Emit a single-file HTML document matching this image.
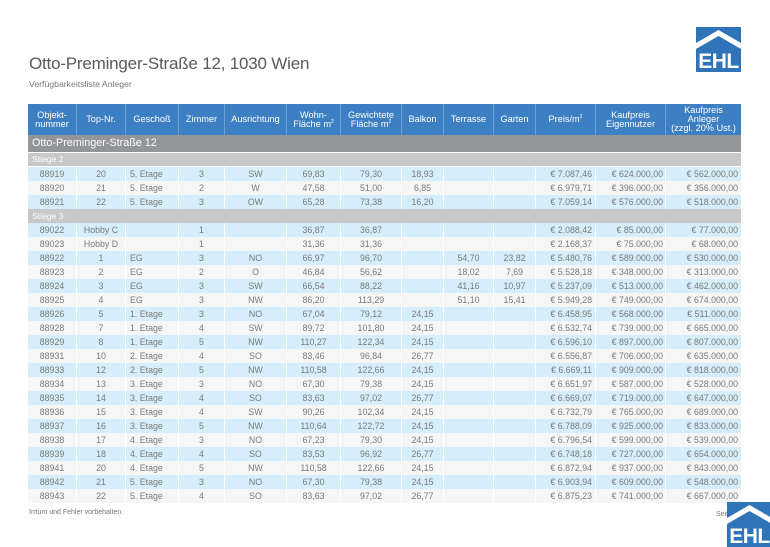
<!DOCTYPE html>
<html><head><meta charset="utf-8">
<style>
*{margin:0;padding:0;box-sizing:border-box}
html,body{width:770px;height:545px;overflow:hidden;background:#fff;font-family:"Liberation Sans",sans-serif}
.abs{position:absolute}
.title{left:29px;top:54.6px;font-size:17px;line-height:17px;color:#5a5a5a;letter-spacing:-0.2px;white-space:nowrap}
.sub{left:29px;top:79.5px;font-size:8.7px;line-height:9px;color:#777;white-space:nowrap}
.row{position:absolute;left:28px;width:713px;display:flex}
.row>div{flex:none;height:100%;border-right:1px solid #fff;white-space:nowrap;overflow:hidden}
.row>div:last-child{border-right:none}
.hd{top:104px;height:31px;background:#3c7fc2;color:#fff;font-size:9.2px;line-height:9px}
.hd>div{display:flex;align-items:center;justify-content:center;text-align:center;border-right:1px solid #6f9fd2 !important}
.hd>div:last-child{border-right:none !important}
.hd>div>span{display:block}
.sec{position:absolute;left:28px;width:713px;top:135px;height:17px;background:#939598;color:#fff;font-size:10.8px;line-height:17px;padding-left:4px}
.st{position:absolute;left:28px;width:713px;height:13px;background:#c8c8c8;color:#fff;font-size:8.6px;line-height:13px;padding-left:4px}
.d{height:14px;font-size:8.8px;line-height:14px;color:#7a7a7a}
.b{background:#d5eef9}
.w{background:#f6f6f6}
.d>div{text-align:center}
.d>div:nth-child(3){text-align:left;padding-left:4px}
.d>div:nth-child(11){text-align:right;padding-right:3px}
.d>div:nth-child(12){text-align:right;padding-right:2px}
.d>div:nth-child(13){text-align:right;padding-right:3px}
.c1{width:49px}.c2{width:49px}.c3{width:53px}.c4{width:46px}.c5{width:62px}.c6{width:54px}.c7{width:61px}.c8{width:42px}.c9{width:50px}.c10{width:42px}.c11{width:60px}.c12{width:70px}.c13{width:75px}
sup{font-size:5px;vertical-align:4px;line-height:0}
.foot{left:29px;top:509px;font-size:7px;line-height:8px;color:#777;white-space:nowrap}
.seite{left:716px;top:511px;font-size:7px;line-height:8px;color:#777;white-space:nowrap}
</style></head><body>

<div class="abs title">Otto-Preminger-Straße 12, 1030 Wien</div>
<div class="abs sub">Verfügbarkeitsliste Anleger</div>

<svg class="abs" style="left:696px;top:27px" width="45" height="45" viewBox="0 0 45 45">
<rect width="45" height="45" fill="#2f74b8"/>
<polygon points="0,16 22.5,3 45,16 45,22 22.5,9 0,22" fill="#fff"/>
<text x="22.5" y="41" text-anchor="middle" font-family="Liberation Sans" font-weight="bold" font-size="21" fill="#fff" letter-spacing="-0.5">EHL</text>
</svg>

<div class="row hd">
<div class="c1"><span>Objekt-<br>nummer</span></div>
<div class="c2"><span>Top-Nr.</span></div>
<div class="c3"><span>Geschoß</span></div>
<div class="c4"><span>Zimmer</span></div>
<div class="c5"><span>Ausrichtung</span></div>
<div class="c6"><span>Wohn-<br>Fläche m<sup>2</sup></span></div>
<div class="c7"><span>Gewichtete<br>Fläche m<sup>2</sup></span></div>
<div class="c8"><span>Balkon</span></div>
<div class="c9"><span>Terrasse</span></div>
<div class="c10"><span>Garten</span></div>
<div class="c11"><span>Preis/m<sup>2</sup></span></div>
<div class="c12"><span>Kaufpreis<br>Eigennutzer</span></div>
<div class="c13"><span>Kaufpreis<br>Anleger<br>(zzgl. 20% Ust.)</span></div>
</div>

<div class="sec">Otto-Preminger-Straße 12</div>
<div class="st" style="top:153px">Stiege 2</div>

<div class="row d b" style="top:167px"><div class="c1">88919</div><div class="c2">20</div><div class="c3">5. Etage</div><div class="c4">3</div><div class="c5">SW</div><div class="c6">69,83</div><div class="c7">79,30</div><div class="c8">18,93</div><div class="c9"></div><div class="c10"></div><div class="c11">€ 7.087,46</div><div class="c12">€ 624.000,00</div><div class="c13">€ 562.000,00</div></div>
<div class="row d w" style="top:181px"><div class="c1">88920</div><div class="c2">21</div><div class="c3">5. Etage</div><div class="c4">2</div><div class="c5">W</div><div class="c6">47,58</div><div class="c7">51,00</div><div class="c8">6,85</div><div class="c9"></div><div class="c10"></div><div class="c11">€ 6.979,71</div><div class="c12">€ 396.000,00</div><div class="c13">€ 356.000,00</div></div>
<div class="row d b" style="top:195px"><div class="c1">88921</div><div class="c2">22</div><div class="c3">5. Etage</div><div class="c4">3</div><div class="c5">OW</div><div class="c6">65,28</div><div class="c7">73,38</div><div class="c8">16,20</div><div class="c9"></div><div class="c10"></div><div class="c11">€ 7.059,14</div><div class="c12">€ 576.000,00</div><div class="c13">€ 518.000,00</div></div>

<div class="st" style="top:209px;height:14px;line-height:14px">Stiege 3</div>

<div class="row d b" style="top:223px"><div class="c1">89022</div><div class="c2">Hobby C</div><div class="c3"></div><div class="c4">1</div><div class="c5"></div><div class="c6">36,87</div><div class="c7">36,87</div><div class="c8"></div><div class="c9"></div><div class="c10"></div><div class="c11">€ 2.088,42</div><div class="c12">€ 85.000,00</div><div class="c13">€ 77.000,00</div></div>
<div class="row d w" style="top:237px"><div class="c1">89023</div><div class="c2">Hobby D</div><div class="c3"></div><div class="c4">1</div><div class="c5"></div><div class="c6">31,36</div><div class="c7">31,36</div><div class="c8"></div><div class="c9"></div><div class="c10"></div><div class="c11">€ 2.168,37</div><div class="c12">€ 75.000,00</div><div class="c13">€ 68.000,00</div></div>
<div class="row d b" style="top:251px"><div class="c1">88922</div><div class="c2">1</div><div class="c3">EG</div><div class="c4">3</div><div class="c5">NO</div><div class="c6">66,97</div><div class="c7">96,70</div><div class="c8"></div><div class="c9">54,70</div><div class="c10">23,82</div><div class="c11">€ 5.480,76</div><div class="c12">€ 589.000,00</div><div class="c13">€ 530.000,00</div></div>
<div class="row d w" style="top:265px"><div class="c1">88923</div><div class="c2">2</div><div class="c3">EG</div><div class="c4">2</div><div class="c5">O</div><div class="c6">46,84</div><div class="c7">56,62</div><div class="c8"></div><div class="c9">18,02</div><div class="c10">7,69</div><div class="c11">€ 5.528,18</div><div class="c12">€ 348.000,00</div><div class="c13">€ 313.000,00</div></div>
<div class="row d b" style="top:279px"><div class="c1">88924</div><div class="c2">3</div><div class="c3">EG</div><div class="c4">3</div><div class="c5">SW</div><div class="c6">66,54</div><div class="c7">88,22</div><div class="c8"></div><div class="c9">41,16</div><div class="c10">10,97</div><div class="c11">€ 5.237,09</div><div class="c12">€ 513.000,00</div><div class="c13">€ 462.000,00</div></div>
<div class="row d w" style="top:293px"><div class="c1">88925</div><div class="c2">4</div><div class="c3">EG</div><div class="c4">3</div><div class="c5">NW</div><div class="c6">86,20</div><div class="c7">113,29</div><div class="c8"></div><div class="c9">51,10</div><div class="c10">15,41</div><div class="c11">€ 5.949,28</div><div class="c12">€ 749.000,00</div><div class="c13">€ 674.000,00</div></div>
<div class="row d b" style="top:307px"><div class="c1">88926</div><div class="c2">5</div><div class="c3">1. Etage</div><div class="c4">3</div><div class="c5">NO</div><div class="c6">67,04</div><div class="c7">79,12</div><div class="c8">24,15</div><div class="c9"></div><div class="c10"></div><div class="c11">€ 6.458,95</div><div class="c12">€ 568.000,00</div><div class="c13">€ 511.000,00</div></div>
<div class="row d w" style="top:321px"><div class="c1">88928</div><div class="c2">7</div><div class="c3">1. Etage</div><div class="c4">4</div><div class="c5">SW</div><div class="c6">89,72</div><div class="c7">101,80</div><div class="c8">24,15</div><div class="c9"></div><div class="c10"></div><div class="c11">€ 6.532,74</div><div class="c12">€ 739.000,00</div><div class="c13">€ 665.000,00</div></div>
<div class="row d b" style="top:335px"><div class="c1">88929</div><div class="c2">8</div><div class="c3">1. Etage</div><div class="c4">5</div><div class="c5">NW</div><div class="c6">110,27</div><div class="c7">122,34</div><div class="c8">24,15</div><div class="c9"></div><div class="c10"></div><div class="c11">€ 6.596,10</div><div class="c12">€ 897.000,00</div><div class="c13">€ 807.000,00</div></div>
<div class="row d w" style="top:349px"><div class="c1">88931</div><div class="c2">10</div><div class="c3">2. Etage</div><div class="c4">4</div><div class="c5">SO</div><div class="c6">83,46</div><div class="c7">96,84</div><div class="c8">26,77</div><div class="c9"></div><div class="c10"></div><div class="c11">€ 6.556,87</div><div class="c12">€ 706.000,00</div><div class="c13">€ 635.000,00</div></div>
<div class="row d b" style="top:363px"><div class="c1">88933</div><div class="c2">12</div><div class="c3">2. Etage</div><div class="c4">5</div><div class="c5">NW</div><div class="c6">110,58</div><div class="c7">122,66</div><div class="c8">24,15</div><div class="c9"></div><div class="c10"></div><div class="c11">€ 6.669,11</div><div class="c12">€ 909.000,00</div><div class="c13">€ 818.000,00</div></div>
<div class="row d w" style="top:377px"><div class="c1">88934</div><div class="c2">13</div><div class="c3">3. Etage</div><div class="c4">3</div><div class="c5">NO</div><div class="c6">67,30</div><div class="c7">79,38</div><div class="c8">24,15</div><div class="c9"></div><div class="c10"></div><div class="c11">€ 6.651,97</div><div class="c12">€ 587.000,00</div><div class="c13">€ 528.000,00</div></div>
<div class="row d b" style="top:391px"><div class="c1">88935</div><div class="c2">14</div><div class="c3">3. Etage</div><div class="c4">4</div><div class="c5">SO</div><div class="c6">83,63</div><div class="c7">97,02</div><div class="c8">26,77</div><div class="c9"></div><div class="c10"></div><div class="c11">€ 6.669,07</div><div class="c12">€ 719.000,00</div><div class="c13">€ 647.000,00</div></div>
<div class="row d w" style="top:405px"><div class="c1">88936</div><div class="c2">15</div><div class="c3">3. Etage</div><div class="c4">4</div><div class="c5">SW</div><div class="c6">90,26</div><div class="c7">102,34</div><div class="c8">24,15</div><div class="c9"></div><div class="c10"></div><div class="c11">€ 6.732,79</div><div class="c12">€ 765.000,00</div><div class="c13">€ 689.000,00</div></div>
<div class="row d b" style="top:419px"><div class="c1">88937</div><div class="c2">16</div><div class="c3">3. Etage</div><div class="c4">5</div><div class="c5">NW</div><div class="c6">110,64</div><div class="c7">122,72</div><div class="c8">24,15</div><div class="c9"></div><div class="c10"></div><div class="c11">€ 6.788,09</div><div class="c12">€ 925.000,00</div><div class="c13">€ 833.000,00</div></div>
<div class="row d w" style="top:433px"><div class="c1">88938</div><div class="c2">17</div><div class="c3">4. Etage</div><div class="c4">3</div><div class="c5">NO</div><div class="c6">67,23</div><div class="c7">79,30</div><div class="c8">24,15</div><div class="c9"></div><div class="c10"></div><div class="c11">€ 6.796,54</div><div class="c12">€ 599.000,00</div><div class="c13">€ 539.000,00</div></div>
<div class="row d b" style="top:447px"><div class="c1">88939</div><div class="c2">18</div><div class="c3">4. Etage</div><div class="c4">4</div><div class="c5">SO</div><div class="c6">83,53</div><div class="c7">96,92</div><div class="c8">26,77</div><div class="c9"></div><div class="c10"></div><div class="c11">€ 6.748,18</div><div class="c12">€ 727.000,00</div><div class="c13">€ 654.000,00</div></div>
<div class="row d w" style="top:461px"><div class="c1">88941</div><div class="c2">20</div><div class="c3">4. Etage</div><div class="c4">5</div><div class="c5">NW</div><div class="c6">110,58</div><div class="c7">122,66</div><div class="c8">24,15</div><div class="c9"></div><div class="c10"></div><div class="c11">€ 6.872,94</div><div class="c12">€ 937.000,00</div><div class="c13">€ 843.000,00</div></div>
<div class="row d b" style="top:475px"><div class="c1">88942</div><div class="c2">21</div><div class="c3">5. Etage</div><div class="c4">3</div><div class="c5">NO</div><div class="c6">67,30</div><div class="c7">79,38</div><div class="c8">24,15</div><div class="c9"></div><div class="c10"></div><div class="c11">€ 6.903,94</div><div class="c12">€ 609.000,00</div><div class="c13">€ 548.000,00</div></div>
<div class="row d w" style="top:489px"><div class="c1">88943</div><div class="c2">22</div><div class="c3">5. Etage</div><div class="c4">4</div><div class="c5">SO</div><div class="c6">83,63</div><div class="c7">97,02</div><div class="c8">26,77</div><div class="c9"></div><div class="c10"></div><div class="c11">€ 6.875,23</div><div class="c12">€ 741.000,00</div><div class="c13">€ 667.000,00</div></div>

<div class="abs foot">Irrtum und Fehler vorbehalten.</div>
<div class="abs seite">Seite 1</div>

<svg class="abs" style="left:727px;top:502px" width="45" height="45" viewBox="0 0 45 45">
<rect width="45" height="45" fill="#2f74b8"/>
<polygon points="0,16 22.5,3 45,16 45,22 22.5,9 0,22" fill="#fff"/>
<text x="22.5" y="41" text-anchor="middle" font-family="Liberation Sans" font-weight="bold" font-size="21" fill="#fff" letter-spacing="-0.5">EHL</text>
</svg>

</body></html>
